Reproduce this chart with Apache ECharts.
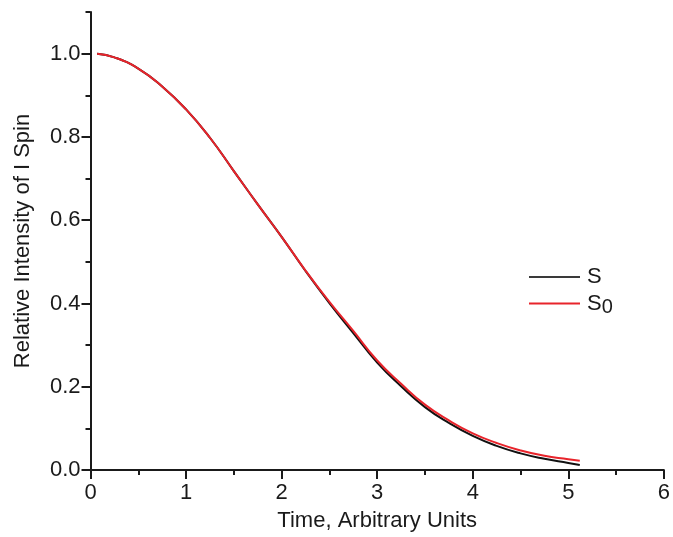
<!DOCTYPE html>
<html>
<head>
<meta charset="utf-8">
<script src="https://cdn.jsdelivr.net/npm/echarts@6/dist/echarts.min.js"></script>
<style>
  html, body { margin: 0; padding: 0; background: #ffffff; }
  #chart { width: 673px; height: 537px; }
</style>
</head>
<body>
<div id="chart"></div>
<script>
// Time samples (arbitrary units)
const time = [0.07, 0.25, 0.5, 0.75, 1.0, 1.25, 1.5, 1.75, 2.0, 2.25, 2.5, 2.75, 3.0, 3.25, 3.5, 3.75, 4.0, 4.25, 4.5, 4.75, 5.0, 5.12];
// Relative intensity of the I spin, S
const sValues = [1.000, 0.991, 0.964, 0.921, 0.866, 0.798, 0.718, 0.638, 0.560, 0.478, 0.401, 0.329, 0.258, 0.201, 0.151, 0.113, 0.082, 0.058, 0.040, 0.027, 0.017, 0.012];
// Relative intensity of the I spin, S0
const s0Values = [1.000, 0.991, 0.964, 0.921, 0.866, 0.798, 0.718, 0.638, 0.560, 0.479, 0.404, 0.334, 0.263, 0.207, 0.157, 0.119, 0.088, 0.065, 0.047, 0.034, 0.026, 0.022];

const xTicks = [0, 1, 2, 3, 4, 5, 6];
const yTicks = [0.0, 0.2, 0.4, 0.6, 0.8, 1.0];
const yMinorTicks = [0.1, 0.3, 0.5, 0.7, 0.9, 1.1];

const seriesNames = ['S', 'S0'];

const FONT = 'Liberation Sans, Arial, Helvetica, sans-serif';
const INK = '#1a1a1a';
const RED = '#e8242b';
const FS = 22;

const pairs = (xs, ys) => xs.map((x, i) => [x, ys[i]]);

const chart = echarts.init(document.getElementById('chart'), null, { renderer: 'canvas' });

chart.setOption({
  backgroundColor: '#ffffff',
  animation: false,
  textStyle: { fontFamily: FONT, color: INK },
  grid: { left: 90.5, right: 6.5, top: 12, bottom: 64, containLabel: false },
  legend: {
    orient: 'vertical',
    left: 529,
    top: 266,
    padding: 0,
    icon: 'rect',
    itemWidth: 51,
    itemHeight: 2,
    itemGap: 4.5,
    data: [
      { name: seriesNames[0], itemStyle: { color: '#3a3a3a' } },
      { name: seriesNames[1], itemStyle: { color: RED } }
    ],
    formatter: name => name === 'S0' ? '{n|S}{sub|0}' : '{n|S}',
    textStyle: {
      color: INK,
      fontFamily: FONT,
      fontSize: FS,
      padding: [0, 0, 0, 2],
      rich: {
        n: { fontSize: FS, fontFamily: FONT, color: INK, lineHeight: 22 },
        sub: { fontSize: 20, fontFamily: FONT, color: INK, padding: [8, 0, 0, 0], verticalAlign: 'bottom' }
      }
    }
  },
  xAxis: [{
    type: 'value',
    min: 0,
    max: 6,
    interval: 1,
    name: 'Time, Arbitrary Units',
    nameLocation: 'middle',
    nameGap: 40,
    nameTextStyle: { fontSize: FS, fontFamily: FONT, color: INK },
    axisLine: { show: true, onZero: false, lineStyle: { color: INK, width: 2 } },
    axisTick: { show: true, inside: false, length: 9, lineStyle: { color: INK, width: 2 }, customValues: xTicks },
    minorTick: { show: true, splitNumber: 2, length: 5, lineStyle: { color: INK, width: 2 } },
    axisLabel: { fontSize: FS, fontFamily: FONT, color: INK, margin: 12, customValues: xTicks },
    splitLine: { show: false },
    minorSplitLine: { show: false }
  }],
  yAxis: [{
    type: 'value',
    min: 0,
    max: 1.1,
    interval: 0.1,
    name: 'Relative Intensity of I Spin',
    nameLocation: 'middle',
    nameGap: 57,
    nameTextStyle: { fontSize: FS, fontFamily: FONT, color: INK },
    axisLine: { show: true, onZero: false, lineStyle: { color: INK, width: 2 } },
    axisTick: { show: true, inside: false, length: 9, lineStyle: { color: INK, width: 2 }, customValues: yTicks },
    axisLabel: {
      fontSize: FS, fontFamily: FONT, color: INK, margin: 10,
      customValues: yTicks,
      formatter: v => v.toFixed(1)
    },
    splitLine: { show: false }
  }, {
    // short ticks halfway between labelled values
    type: 'value',
    min: 0,
    max: 1.1,
    interval: 0.1,
    position: 'left',
    axisLine: { show: false },
    axisTick: { show: true, inside: false, length: 5, lineStyle: { color: INK, width: 2 }, customValues: yMinorTicks },
    axisLabel: { show: false },
    splitLine: { show: false }
  }],
  series: [{
    name: 'S',
    type: 'line',
    smooth: true,
    symbol: 'none',
    showSymbol: false,
    data: pairs(time, sValues),
    lineStyle: { color: '#111111', width: 2 },
    itemStyle: { color: '#111111' },
    z: 2
  }, {
    name: 'S0',
    type: 'line',
    smooth: true,
    symbol: 'none',
    showSymbol: false,
    data: pairs(time, s0Values),
    lineStyle: { color: RED, width: 2 },
    itemStyle: { color: RED },
    z: 3
  }]
});
</script>
</body>
</html>
